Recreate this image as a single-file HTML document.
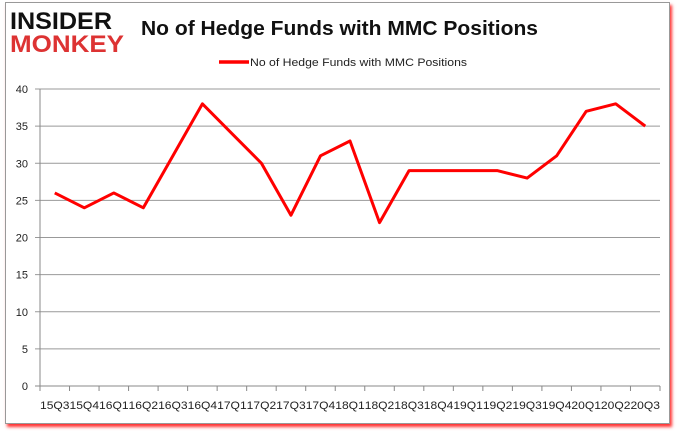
<!DOCTYPE html>
<html><head><meta charset="utf-8"><style>
body{margin:0;background:#fff;width:678px;height:431px;overflow:hidden;font-family:"Liberation Sans",sans-serif}
#frame{position:absolute;left:5px;top:2px;width:663px;height:420px;border:1px solid #999;box-shadow:2px 3px 3px #f33;background:#fff}
</style></head><body>
<div id="frame"></div>
<svg width="678" height="431" style="position:absolute;left:0;top:0" id="chart">
<text x="10" y="29" font-size="24" font-weight="bold" fill="#111" font-family="Liberation Sans" textLength="102" lengthAdjust="spacingAndGlyphs">INSIDER</text>
<text x="10" y="52" font-size="24" font-weight="bold" fill="#d33" font-family="Liberation Sans" textLength="114" lengthAdjust="spacingAndGlyphs">MONKEY</text>
<text x="141" y="35" font-size="20" font-weight="bold" fill="#111" textLength="397" lengthAdjust="spacingAndGlyphs">No of Hedge Funds with MMC Positions</text>
<line x1="219" y1="62" x2="249" y2="62" stroke="red" stroke-width="3.5"/>
<text x="250" y="66" font-size="11" fill="#222" textLength="217" lengthAdjust="spacingAndGlyphs">No of Hedge Funds with MMC Positions</text>
<g id="grid"></g><g id="axes"></g>
</svg>
<script>
const categories=["15Q3","15Q4","16Q1","16Q2","16Q3","16Q4","17Q1","17Q2","17Q3","17Q4","18Q1","18Q2","18Q3","18Q4","19Q1","19Q2","19Q3","19Q4","20Q1","20Q2","20Q3"];
const values=[26,24,26,24,31,38,34,30,23,31,33,22,29,29,29,29,28,31,37,38,35];
const yTicks=[0,5,10,15,20,25,30,35,40];
const NS="http://www.w3.org/2000/svg";
const L=40,R=660,T=89,B=386;
const bw=(R-L)/categories.length;
const x=i=>L+bw*(i+0.5);
const y=v=>B-(v/40)*(B-T);
const svg=document.getElementById('chart');
function mk(t,a){const e=document.createElementNS(NS,t);for(const k in a)e.setAttribute(k,a[k]);svg.appendChild(e);return e;}
yTicks.forEach(v=>{
 const g=mk('line',{x1:L-5,x2:R,y1:y(v),y2:y(v),stroke:v===0?'#888':'#999','stroke-width':1});
 
 
 const t=mk('text',{x:L-12,y:y(v)+4,'font-size':11,fill:'#222','text-anchor':'end'});t.textContent=v;
 
 
});
const ax=mk('line',{x1:L,x2:L,y1:T,y2:B,stroke:'#888'});


for(let i=0;i<=categories.length;i++){
 const tk=mk('line',{x1:L+bw*i,x2:L+bw*i,y1:B,y2:B+5,stroke:'#888'});
 
 
}
categories.forEach((c,i)=>{
 const t=mk('text',{x:x(i),y:409,'font-size':11,fill:'#222','text-anchor':'middle',textLength:bw,lengthAdjust:'spacingAndGlyphs'});t.textContent=c;
 
 
});
const p=mk('polyline',{points:values.map((v,i)=>x(i)+','+y(v)).join(' '),fill:'none',stroke:'red','stroke-width':3,'stroke-linejoin':'round'});


</script>
</body></html>
